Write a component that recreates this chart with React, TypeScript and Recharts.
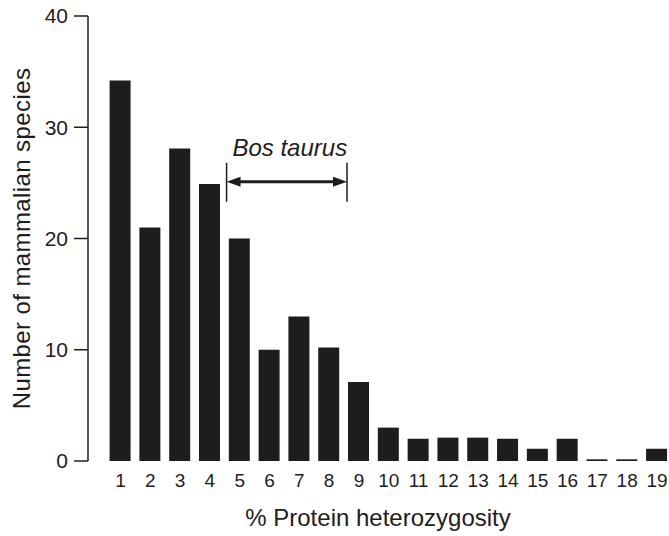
import React from 'react';
import { BarChart, Bar, XAxis, YAxis, ReferenceLine } from 'recharts';

const categories = [1, 2, 3, 4, 5, 6, 7, 8, 9, 10, 11, 12, 13, 14, 15, 16, 17, 18, 19];
const speciesCounts = [34.2, 21, 28.1, 24.9, 20, 10, 13, 10.2, 7.1, 3, 2, 2.1, 2.1, 2, 1.1, 2, 0.15, 0.15, 1.1];
const yTicks = [0, 10, 20, 30, 40];
const bosRange = [4.56, 8.6];
const bosArrowY = 25.1;
const bosBracket = [23.3, 26.8];

const data = categories.map((c, i) => ({ x: c, count: speciesCounts[i] }));

const INK = '#1f1c1d';
const FONT = '"Liberation Sans", Arial, Helvetica, sans-serif';

const ArrowShape = (props: any) => {
  const { x1, y1, x2, y2 } = props;
  const len = 14;
  const half = 5;
  return (
    <g>
      <line x1={x1 + len - 2} y1={y1} x2={x2 - len + 2} y2={y2} stroke={INK} strokeWidth={3} />
      <polygon points={`${x1},${y1} ${x1 + len},${y1 - half} ${x1 + len},${y1 + half}`} fill={INK} />
      <polygon points={`${x2},${y2} ${x2 - len},${y2 - half} ${x2 - len},${y2 + half}`} fill={INK} />
    </g>
  );
};

export default function App() {
  return (
    <div style={{ position: 'absolute', left: 0, top: 0, width: 669, height: 536, background: '#fff' }}>
      <BarChart
        width={669}
        height={536}
        data={data}
        margin={{ top: 16, right: 1, bottom: 0, left: 0 }}
        style={{ fontFamily: FONT }}
      >
        <XAxis
          dataKey="x"
          type="number"
          domain={[-0.09, 19.37]}
          allowDataOverflow
          ticks={categories}
          interval={0}
          axisLine={false}
          tickLine={false}
          tickMargin={7}
          height={75}
          tick={{ fill: INK, fontSize: 19, fontFamily: FONT }}
          label={{
            value: '% Protein heterozygosity',
            position: 'insideBottom',
            offset: 10,
            fill: INK,
            fontSize: 24,
            fontFamily: FONT,
          }}
        />
        <YAxis
          domain={[0, 40]}
          ticks={yTicks}
          width={88}
          tickSize={14}
          tickMargin={6}
          axisLine={{ stroke: INK, strokeWidth: 1.5 }}
          tickLine={{ stroke: INK, strokeWidth: 1.5 }}
          tick={{ fill: INK, fontSize: 21, fontFamily: FONT }}
          label={{
            value: 'Number of mammalian species',
            angle: -90,
            position: 'insideLeft',
            offset: 21,
            style: { textAnchor: 'middle', letterSpacing: 0.4 },
            fill: INK,
            fontSize: 24,
            fontFamily: FONT,
          }}
        />
        <Bar dataKey="count" fill={INK} barSize={21} isAnimationActive={false} />
        <ReferenceLine
          segment={[
            { x: bosRange[0], y: bosBracket[0] },
            { x: bosRange[0], y: bosBracket[1] },
          ]}
          stroke={INK}
          strokeWidth={1.5}
        />
        <ReferenceLine
          segment={[
            { x: bosRange[1], y: bosBracket[0] },
            { x: bosRange[1], y: bosBracket[1] },
          ]}
          stroke={INK}
          strokeWidth={1.5}
        />
        <ReferenceLine
          segment={[
            { x: bosRange[0], y: bosArrowY },
            { x: bosRange[1], y: bosArrowY },
          ]}
          stroke={INK}
          shape={ArrowShape}
          label={{
            value: 'Bos taurus',
            position: 'top',
            offset: 26,
            dx: 3,
            fill: INK,
            fontSize: 24,
            fontStyle: 'italic',
            fontFamily: FONT,
          }}
        />
      </BarChart>
    </div>
  );
}
